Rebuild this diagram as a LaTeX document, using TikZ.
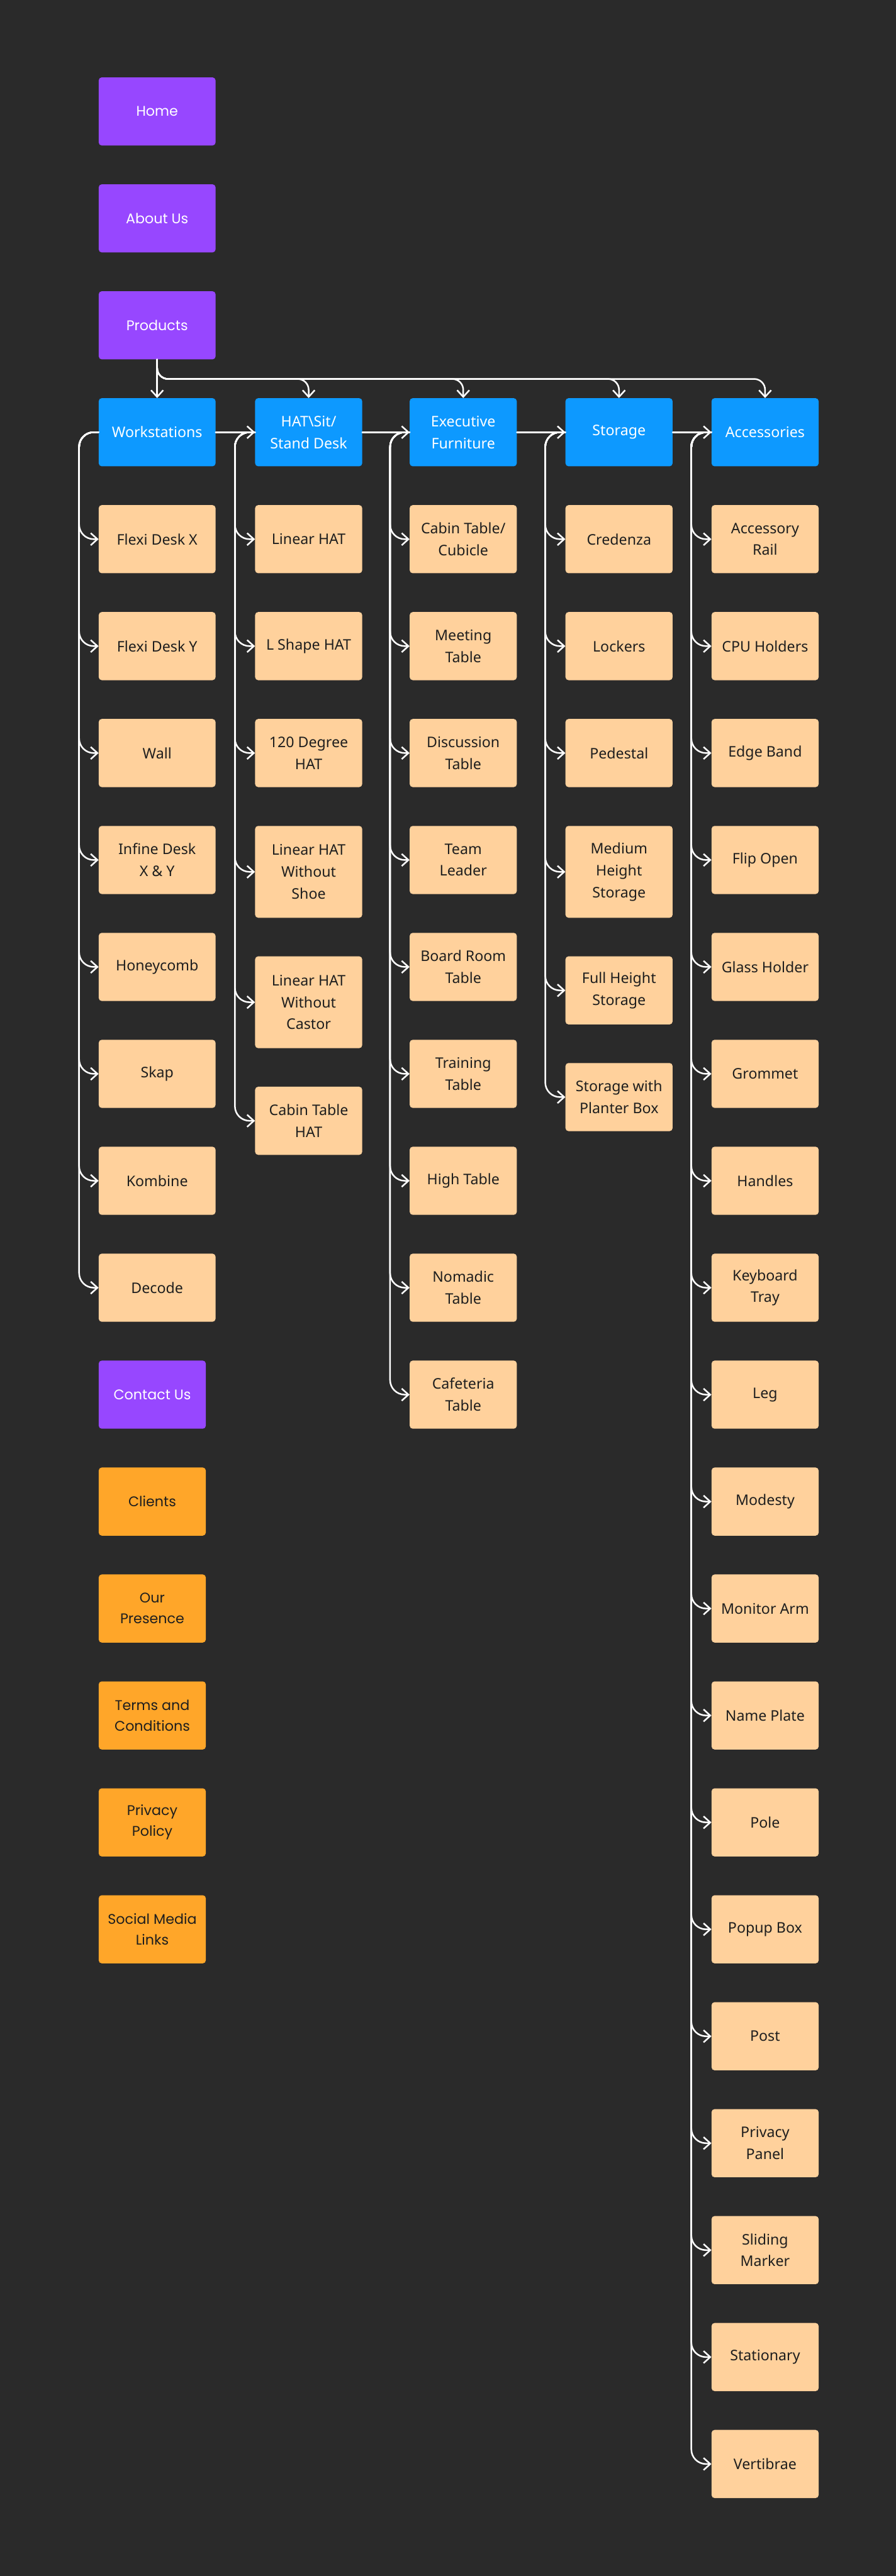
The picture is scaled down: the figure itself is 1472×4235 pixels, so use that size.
\documentclass[tikz,border=0pt]{standalone}
\usepackage{fontspec}
\setmainfont{Noto Sans}
\newfontfamily\popfont{Poppins}
\usetikzlibrary{arrows.meta}
\definecolor{bg}{HTML}{2A2A2A}
\definecolor{cpurple}{HTML}{9747FF}
\definecolor{cblue}{HTML}{0D99FF}
\definecolor{cpeach}{HTML}{FFD19C}
\definecolor{corange}{HTML}{FFA629}
\definecolor{cdark}{HTML}{1E1E1E}
\tikzset{
  box/.style={rectangle, rounded corners=5pt, inner sep=0pt, align=center,
    minimum height=112pt, minimum width=176pt, anchor=north west,
    font=\fontsize{24}{36}\selectfont},
  tall/.style={minimum height=151pt},
  wide/.style={minimum width=192pt},
  hdr/.style={box, fill=cblue, text=white},
  leaf/.style={box, fill=cpeach, text=cdark},
  pur/.style={box, fill=cpurple, text=white, font=\popfont\fontsize{23}{36}\selectfont},
  org/.style={box, fill=corange, text=cdark, font=\popfont\fontsize{23}{34}\selectfont},
  conn/.style={draw=white, line width=2.6pt, line cap=round, line join=round,
    -{Straight Barb[length=11pt,width=20pt]}, rounded corners=24pt},
  topconn/.style={conn, rounded corners=18pt},
}
\begin{document}
\begin{tikzpicture}[x=1pt,y=-1pt]
\fill[bg] (0,0) rectangle (1472,4235);
\useasboundingbox (0,0) rectangle (1472,4235);

% main pages
\node[pur, wide] (home) at (162,127) {Home};
\node[pur, wide] (about) at (162,302.8) {About Us};
\node[pur, wide] (prod) at (162,478.6) {Products};
\node[pur] (contact) at (162,2236.6) {Contact Us};
\node[org] (clients) at (162,2412.4) {Clients};
\node[org] (presence) at (162,2588.2) {Our\\Presence};
\node[org] (terms) at (162,2764) {Terms and\\Conditions};
\node[org] (privpol) at (162,2939.8) {Privacy\\Policy};
\node[org] (social) at (162,3115.6) {Social Media\\Links};

% headers
\node[hdr, wide] (ws) at (162,654.4) {Workstations};
\node[hdr] (hat) at (419,654.4) {HAT\textbackslash Sit/\\Stand Desk};
\node[hdr] (exe) at (673,654.4) {Executive\\Furniture};
\node[hdr] (sto) at (929,654.4) {Storage};
\node[hdr] (acc) at (1169,654.4) {Accessories};

% column 1
\foreach \t [count=\i] in {Flexi Desk X, Flexi Desk Y, Wall, {Infine Desk\\X \& Y}, Honeycomb, Skap, Kombine, Decode}
  \node[leaf, wide] (w\i) at (162,{127+175.8*(\i+3)}) {\t};

% column 2
\node[leaf] (h1) at (419,830.2) {Linear HAT};
\node[leaf] (h2) at (419,1006) {L Shape HAT};
\node[leaf] (h3) at (419,1181.8) {120 Degree\\HAT};
\node[leaf, tall] (h4) at (419,1357.6) {Linear HAT\\Without\\Shoe};
\node[leaf, tall] (h5) at (419,1572) {Linear HAT\\Without\\Castor};
\node[leaf] (h6) at (419,1786.4) {Cabin Table\\HAT};

% column 3
\foreach \t [count=\i] in {{Cabin Table/\\Cubicle}, {Meeting\\Table}, {Discussion\\Table}, {Team\\Leader}, {Board Room\\Table}, {Training\\Table}, High Table, {Nomadic\\Table}, {Cafeteria\\Table}}
  \node[leaf] (e\i) at (673,{127+175.8*(\i+3)}) {\t};

% column 4
\node[leaf] (s1) at (929,830.2) {Credenza};
\node[leaf] (s2) at (929,1006) {Lockers};
\node[leaf] (s3) at (929,1181.8) {Pedestal};
\node[leaf, tall] (s4) at (929,1357.6) {Medium\\Height\\Storage};
\node[leaf] (s5) at (929,1572) {Full Height\\Storage};
\node[leaf] (s6) at (929,1747.4) {Storage with\\Planter Box};

% column 5
\foreach \t [count=\i] in {{Accessory\\Rail}, CPU Holders, Edge Band, Flip Open, Glass Holder, Grommet, Handles, {Keyboard\\Tray}, Leg, Modesty, Monitor Arm, Name Plate, Pole, Popup Box, Post, {Privacy\\Panel}, {Sliding\\Marker}, Stationary, Vertibrae}
  \node[leaf] (a\i) at (1169,{127+175.8*(\i+3)}) {\t};

% connectors from Products
\draw[conn] (prod.south) -- (ws.north);
\foreach \n in {hat,exe,sto,acc}
  \draw[topconn] (prod.south) -- ++(0,32) -| (\n.north);

% header chain
\draw[conn] (ws.east) -- (hat.west);
\draw[conn] (hat.east) -- (exe.west);
\draw[conn] (exe.east) -- (sto.west);
\draw[conn] (sto.east) -- (acc.west);

% children
\foreach \i in {1,...,8} \draw[conn] (ws.west) -- ++(-32,0) |- (w\i.west);
\foreach \i in {1,...,6} \draw[conn] (hat.west) -- ++(-33,0) |- (h\i.west);
\foreach \i in {1,...,9} \draw[conn] (exe.west) -- ++(-32,0) |- (e\i.west);
\foreach \i in {1,...,6} \draw[conn] (sto.west) -- ++(-33,0) |- (s\i.west);
\foreach \i in {1,...,19} \draw[conn] (acc.west) -- ++(-33,0) |- (a\i.west);
\end{tikzpicture}
\end{document}
